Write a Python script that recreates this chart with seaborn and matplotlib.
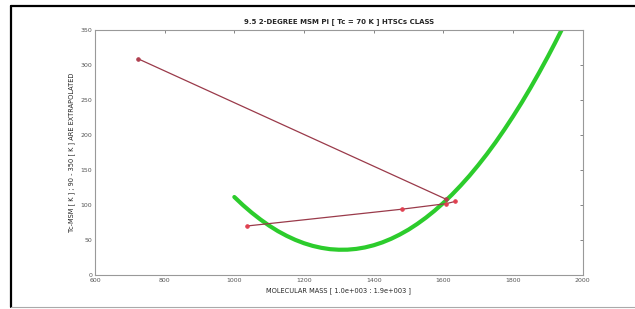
import matplotlib
matplotlib.use("Agg")
import matplotlib.pyplot as plt
import matplotlib.lines as mlines
import seaborn as sns

# green fitted curve
fit_mass = [1000, 1025, 1050, 1075, 1100, 1125, 1150, 1175, 1200, 1225,
            1250, 1275, 1300, 1325, 1350, 1375, 1400, 1425, 1450, 1475,
            1500, 1525, 1550, 1575, 1600, 1625, 1650, 1675, 1700, 1725,
            1750, 1775, 1800, 1825, 1850, 1875, 1900, 1920, 1940]
fit_tc = [111.4, 99.7, 89.0, 79.3, 70.5, 62.7, 56.0, 50.2, 45.4, 41.6,
          38.8, 36.9, 36.1, 36.2, 37.3, 39.4, 42.5, 46.6, 51.7, 57.8,
          64.8, 72.9, 81.9, 91.9, 102.9, 114.9, 127.9, 141.8, 156.8, 172.7,
          189.6, 207.6, 226.5, 246.3, 267.2, 289.1, 311.9, 330.9, 350.5]

# red polylines with markers
path1_mass = [723, 1609]
path1_tc = [309, 108]
path2_mass = [1036, 1481, 1609, 1633]
path2_tc = [70, 94, 102, 105]

x_ticks = [600, 800, 1000, 1200, 1400, 1600, 1800, 2000]
y_ticks = [0, 50, 100, 150, 200, 250, 300, 350]

sns.set_style("white")
plt.rcParams["font.family"] = ["DejaVu Sans"]

fig = plt.figure(figsize=(6.35, 3.09), dpi=100)
ax = fig.add_axes([0.1496, 0.110, 0.768, 0.793])

sns.lineplot(x=fit_mass, y=fit_tc, sort=False, ax=ax, color="#2ccc2c", linewidth=3.0,
             solid_joinstyle="round", solid_capstyle="round")
sns.lineplot(x=path1_mass, y=path1_tc, sort=False, ax=ax, color="#9a3a4a", linewidth=0.9,
             marker="o", markersize=2.5, markeredgecolor="#b04050", markerfacecolor="#b04050")
sns.lineplot(x=path2_mass, y=path2_tc, sort=False, ax=ax, color="#9a3a4a", linewidth=0.9,
             marker="o", markersize=2.5, markeredgecolor="#e04050", markerfacecolor="#e04050")

ax.set_xlim(600, 2000)
ax.set_ylim(0, 350)
ax.set_xticks(x_ticks)
ax.set_yticks(y_ticks)
ax.tick_params(direction="in", top=True, right=True, length=2.5, width=0.5,
               labelsize=4.5, colors="#555555", pad=2)
for s in ax.spines.values():
    s.set_color("#999999")
    s.set_linewidth(0.8)

ax.set_title("9.5 2-DEGREE MSM Pi [ Tc = 70 K ] HTSCs CLASS", fontsize=5, fontweight="bold", pad=5)
ax.set_xlabel("MOLECULAR MASS [ 1.0e+003 : 1.9e+003 ]", fontsize=4.8, labelpad=3)
ax.set_ylabel("Tc-MSM [ K ] ; 90 - 350 [ K ] ARE EXTRAPOLATED", fontsize=4.8, labelpad=4)

# outer frame of the screenshot
fig.add_artist(mlines.Line2D([0.0173, 0.0173], [0.0065, 0.9806], color="black", linewidth=1.6))
fig.add_artist(mlines.Line2D([0.0173, 1.0], [0.9806, 0.9806], color="black", linewidth=1.6))
fig.add_artist(mlines.Line2D([0.0173, 1.0], [0.0065, 0.0065], color="#aaaaaa", linewidth=0.8))

fig.savefig("out.png", dpi=100)
